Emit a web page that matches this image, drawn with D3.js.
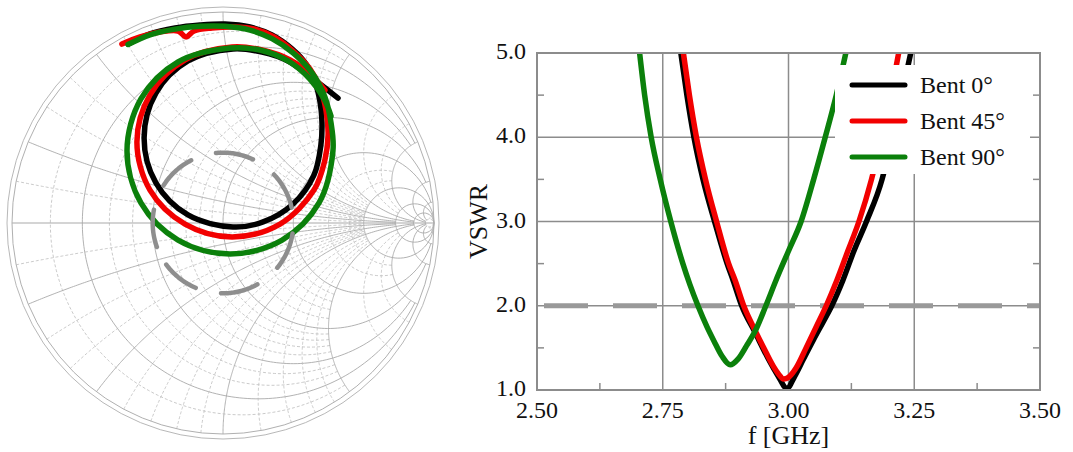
<!DOCTYPE html>
<html>
<head>
<meta charset="utf-8">
<script src="https://cdn.jsdelivr.net/npm/d3@7"></script>
<style>
  body { margin: 0; background: #fff; }
  svg { display: block; }
</style>
</head>
<body>
<svg id="chart" width="1073" height="452"></svg>
<script>
// ---------------- VSWR sweep ----------------
const seriesNames = ["Bent 0°", "Bent 45°", "Bent 90°"];
const seriesColors = ["#000000", "#f20000", "#0b800b"];

const freqBent0 = [2.786, 2.798, 2.812, 2.830, 2.853, 2.878, 2.890, 2.907, 2.933, 2.959, 2.979, 2.997,
                   3.012, 3.030, 3.050, 3.070, 3.086, 3.108, 3.130, 3.155, 3.186, 3.206, 3.225, 3.243];
const vswrBent0 = [5.00, 4.50, 4.00, 3.50, 3.00, 2.50, 2.30, 2.00, 1.69, 1.38, 1.17, 1.02,
                   1.16, 1.37, 1.60, 1.82, 2.00, 2.30, 2.65, 3.00, 3.50, 4.00, 4.50, 5.00];

const freqBent45 = [2.791, 2.803, 2.817, 2.835, 2.857, 2.881, 2.894, 2.911, 2.935, 2.955, 2.970, 2.980, 2.990,
                    3.000, 3.015, 3.035, 3.055, 3.075, 3.096, 3.118, 3.140, 3.165, 3.185, 3.203, 3.219];
const vswrBent45 = [5.00, 4.50, 4.00, 3.50, 3.00, 2.50, 2.30, 2.00, 1.69, 1.45, 1.28, 1.19, 1.13,
                    1.15, 1.26, 1.50, 1.75, 2.00, 2.30, 2.65, 3.00, 3.50, 4.00, 4.50, 5.00];

const freqBent90 = [2.704, 2.714, 2.727, 2.745, 2.766, 2.790, 2.804, 2.820, 2.838, 2.852, 2.868, 2.884,
                    2.900, 2.917, 2.933, 2.955, 2.975, 3.000, 3.025, 3.050, 3.073, 3.095, 3.114];
const vswrBent90 = [5.00, 4.50, 4.00, 3.50, 3.00, 2.50, 2.25, 2.00, 1.75, 1.58, 1.40, 1.30,
                    1.37, 1.53, 1.69, 2.00, 2.30, 2.65, 3.00, 3.50, 4.00, 4.50, 5.00];

const freqTicks = [2.5, 2.75, 3.0, 3.25, 3.5];
const freqTickLabels = ["2.50", "2.75", "3.00", "3.25", "3.50"];
const freqMinorTicks = [2.625, 2.875, 3.125, 3.375];
const vswrTicks = [1, 2, 3, 4, 5];
const vswrTickLabels = ["1.0", "2.0", "3.0", "4.0", "5.0"];
const vswrMinorTicks = [1.5, 2.5, 3.5, 4.5];
const vswrLimit = 2.0;

// ---------------- Reflection coefficient traces (Re Γ, Im Γ) ----------------
const gammaBent0 = [
  [-0.450, 0.848], [-0.346, 0.896], [-0.227, 0.924], [-0.109, 0.938], [0.009, 0.943], [0.128, 0.929],
  [0.232, 0.891], [0.327, 0.825], [0.393, 0.754], [0.436, 0.668], [0.460, 0.573], [0.469, 0.479],
  [0.464, 0.370], [0.431, 0.227], [0.332, 0.090], [0.190, 0.005], [0.047, -0.019], [-0.166, 0.038],
  [-0.318, 0.190], [-0.374, 0.403], [-0.318, 0.616], [-0.166, 0.768], [0.047, 0.825], [0.185, 0.810],
  [0.308, 0.768], [0.422, 0.687], [0.545, 0.592]
];
const gammaBent45 = [
  [-0.479, 0.848], [-0.393, 0.882], [-0.299, 0.905], [-0.213, 0.910], [-0.175, 0.882], [-0.137, 0.910],
  [-0.052, 0.924], [0.057, 0.929], [0.152, 0.919], [0.242, 0.882], [0.332, 0.815], [0.412, 0.730],
  [0.460, 0.640], [0.488, 0.536], [0.498, 0.417], [0.483, 0.299], [0.431, 0.156], [0.270, -0.005],
  [0.043, -0.066], [-0.180, -0.005], [-0.346, 0.156], [-0.408, 0.384], [-0.346, 0.607], [-0.180, 0.773],
  [0.043, 0.834], [0.185, 0.820], [0.318, 0.773], [0.422, 0.697], [0.483, 0.630]
];
const gammaBent90 = [
  [-0.450, 0.846], [-0.346, 0.892], [-0.227, 0.919], [-0.109, 0.932], [0.009, 0.932], [0.128, 0.914],
  [0.232, 0.874], [0.332, 0.806], [0.422, 0.711], [0.483, 0.597], [0.512, 0.474], [0.521, 0.341],
  [0.455, 0.095], [0.280, -0.081], [0.033, -0.147], [-0.213, -0.081], [-0.389, 0.095], [-0.455, 0.341],
  [-0.389, 0.588], [-0.213, 0.763], [0.033, 0.829], [0.175, 0.820], [0.308, 0.768], [0.412, 0.682],
  [0.479, 0.588], [0.512, 0.507]
];

// Smith grid: normalized resistance circles / reactance arcs and how far each one reaches
const resistanceValues = [0.1, 0.2, 0.3, 0.4, 0.5, 0.6, 0.7, 0.8, 0.9, 1, 1.2, 1.4, 1.6, 1.8, 2, 3, 4, 5, 10, 20, 50];
const resistanceReach  = [2, 5, 2, 2, 5, 2, 2, 2, 2, 10, 2, 2, 2, 2, 20, 5, 5, Infinity, Infinity, Infinity, Infinity];
const reactanceValues  = [0.1, 0.2, 0.3, 0.4, 0.5, 0.6, 0.7, 0.8, 0.9, 1, 1.2, 1.4, 1.6, 1.8, 2, 3, 4, 5, 10, 20, 50];
const reactanceReach   = [5, 10, 5, 5, 10, 5, 5, 5, 5, 20, 5, 5, 5, 5, 20, 10, 10, 50, 50, 50, 50];
const majorGridValues  = [0.2, 0.5, 1, 2, 5, 10, 20];

const svg = d3.select("#chart");
const serif = "'Liberation Serif', 'Times New Roman', serif";

// ================= Smith chart =================
const cx = 223, cy = 223, R = 211;
const gx = d3.scaleLinear().domain([-1, 1]).range([cx - R, cx + R]);
const gy = d3.scaleLinear().domain([-1, 1]).range([cy + R, cy - R]);
const toGamma = (a, b) => {
  const d = (a + 1) * (a + 1) + b * b;
  return [(a * a - 1 + b * b) / d, (2 * b) / d];
};
const gLine = d3.line().x(d => gx(d[0])).y(d => gy(d[1]));
const smith = svg.append("g");

const gridStyle = (sel, major) => sel
  .attr("fill", "none")
  .attr("stroke", major ? "#a9a9a9" : "#bdbdbd")
  .attr("stroke-width", major ? 0.9 : 0.8)
  .attr("stroke-dasharray", major ? null : "3,2");

const N = 240;
resistanceValues.forEach((r, i) => {
  const lim = Math.atan(resistanceReach[i]);
  const pts = d3.range(N + 1).map(k => toGamma(r, Math.tan(-lim + 2 * lim * k / N)));
  smith.append("path").attr("d", gLine(pts)).call(gridStyle, majorGridValues.includes(r));
});
reactanceValues.forEach((x, i) => {
  const lim = Math.atan(reactanceReach[i]);
  [1, -1].forEach(s => {
    const pts = d3.range(N + 1).map(k => toGamma(Math.tan(lim * k / N), s * x));
    smith.append("path").attr("d", gLine(pts)).call(gridStyle, majorGridValues.includes(x));
  });
});
// real axis
smith.append("line")
  .attr("x1", gx(-1)).attr("x2", gx(1)).attr("y1", gy(0)).attr("y2", gy(0))
  .attr("stroke", "#a9a9a9").attr("stroke-width", 1);
// unit circle and outer rim
smith.append("circle").attr("cx", gx(0)).attr("cy", gy(0)).attr("r", gx(1) - gx(0))
  .attr("fill", "none").attr("stroke", "#b0b0b0").attr("stroke-width", 1);
smith.append("circle").attr("cx", gx(0)).attr("cy", gy(0)).attr("r", gx(1) - gx(0) + 5)
  .attr("fill", "none").attr("stroke", "#b8b8b8").attr("stroke-width", 1);

// traces
const traceLine = d3.line().x(d => gx(d[0])).y(d => gy(d[1])).curve(d3.curveCatmullRom.alpha(0.5));
[gammaBent0, gammaBent45, gammaBent90].forEach((g, i) => {
  smith.append("path").attr("d", traceLine(g))
    .attr("fill", "none").attr("stroke", seriesColors[i])
    .attr("stroke-width", 5.5).attr("stroke-linecap", "round").attr("stroke-linejoin", "round");
});

// constant-VSWR circle
const gammaLimit = (vswrLimit - 1) / (vswrLimit + 1);
const circPts = d3.range(361).map(k => {
  const a = (200 - k) * Math.PI / 180;
  return [gammaLimit * Math.cos(a), gammaLimit * Math.sin(a)];
});
smith.append("path").attr("d", gLine(circPts))
  .attr("fill", "none").attr("stroke", "#8e8e8e").attr("stroke-width", 4.5)
  .attr("stroke-linecap", "round").attr("stroke-dasharray", "38,26");

// ================= VSWR vs frequency =================
const px0 = 537, px1 = 1040, py0 = 53, py1 = 390;
const x = d3.scaleLinear().domain([2.5, 3.5]).range([px0, px1]);
const y = d3.scaleLinear().domain([1, 5]).range([py1, py0]);
const plot = svg.append("g");

// grid
plot.selectAll("line.vg").data(freqTicks.slice(1, -1)).join("line")
  .attr("x1", d => x(d)).attr("x2", d => x(d)).attr("y1", y(1)).attr("y2", y(5))
  .attr("stroke", "#8c8c8c").attr("stroke-width", 1.5);
plot.selectAll("line.hg").data(vswrTicks.slice(1, -1)).join("line")
  .attr("x1", x(2.5)).attr("x2", x(3.5)).attr("y1", d => y(d)).attr("y2", d => y(d))
  .attr("stroke", "#8c8c8c").attr("stroke-width", 1.5);

// minor ticks
plot.selectAll("line.mx").data(freqMinorTicks).join("line")
  .attr("x1", d => x(d)).attr("x2", d => x(d)).attr("y1", y(1)).attr("y2", y(1) - 7)
  .attr("stroke", "#8c8c8c").attr("stroke-width", 1.5);
plot.selectAll("line.myl").data(vswrMinorTicks).join("line")
  .attr("x1", x(2.5)).attr("x2", x(2.5) + 7).attr("y1", d => y(d)).attr("y2", d => y(d))
  .attr("stroke", "#8c8c8c").attr("stroke-width", 1.5);
plot.selectAll("line.myr").data(vswrMinorTicks).join("line")
  .attr("x1", x(3.5)).attr("x2", x(3.5) - 7).attr("y1", d => y(d)).attr("y2", d => y(d))
  .attr("stroke", "#8c8c8c").attr("stroke-width", 1.5);

// VSWR = 2 limit line
plot.append("line")
  .attr("x1", x(2.5)).attr("x2", x(3.5)).attr("y1", y(vswrLimit)).attr("y2", y(vswrLimit))
  .attr("stroke", "#999999").attr("stroke-width", 5)
  .attr("stroke-dasharray", "44,25").attr("stroke-dashoffset", 62);

// curves
const clip = svg.append("defs").append("clipPath").attr("id", "plotclip");
clip.append("rect").attr("x", px0).attr("y", py0 - 1).attr("width", px1 - px0).attr("height", py1 - py0 + 4);
const vLine = d3.line().x(d => x(d[0])).y(d => y(d[1])).curve(d3.curveMonotoneX);
const sweeps = [
  d3.zip(freqBent0, vswrBent0),
  d3.zip(freqBent45, vswrBent45),
  d3.zip(freqBent90, vswrBent90)
];
sweeps.forEach((s, i) => {
  plot.append("path").attr("d", vLine(s)).attr("clip-path", "url(#plotclip)")
    .attr("fill", "none").attr("stroke", seriesColors[i]).attr("stroke-width", 5.5)
    .attr("stroke-linejoin", "round");
});

// frame
plot.append("rect").attr("x", px0).attr("y", py0).attr("width", px1 - px0).attr("height", py1 - py0)
  .attr("fill", "none").attr("stroke", "#8c8c8c").attr("stroke-width", 2);

// legend
const lg = plot.append("g");
lg.append("rect").attr("x", 835).attr("y", 65).attr("width", 195).attr("height", 109).attr("fill", "#fff");
seriesNames.forEach((name, i) => {
  const ly = 85 + i * 36;
  lg.append("line").attr("x1", 852).attr("x2", 905).attr("y1", ly).attr("y2", ly)
    .attr("stroke", seriesColors[i]).attr("stroke-width", 5).attr("stroke-linecap", "round");
  lg.append("text").attr("x", 920).attr("y", ly + 8).text(name)
    .attr("font-family", serif).attr("font-size", 24).attr("fill", "#111");
});

// tick labels
plot.selectAll("text.xt").data(freqTicks).join("text")
  .attr("x", d => x(d)).attr("y", 418).attr("text-anchor", "middle")
  .attr("font-family", serif).attr("font-size", 24).attr("fill", "#111")
  .text((d, i) => freqTickLabels[i]);
plot.selectAll("text.yt").data(vswrTicks).join("text")
  .attr("x", px0 - 11).attr("y", d => y(d) + 6).attr("text-anchor", "end")
  .attr("font-family", serif).attr("font-size", 24).attr("fill", "#111")
  .text((d, i) => vswrTickLabels[i]);

// axis titles
plot.append("text").attr("x", (px0 + px1) / 2).attr("y", 444).attr("text-anchor", "middle")
  .attr("font-family", serif).attr("font-size", 26).attr("fill", "#111").text("f [GHz]");
plot.append("text").attr("transform", `translate(487,${(py0 + py1) / 2}) rotate(-90)`)
  .attr("text-anchor", "middle")
  .attr("font-family", serif).attr("font-size", 26).attr("fill", "#111").text("VSWR");
</script>
</body>
</html>
